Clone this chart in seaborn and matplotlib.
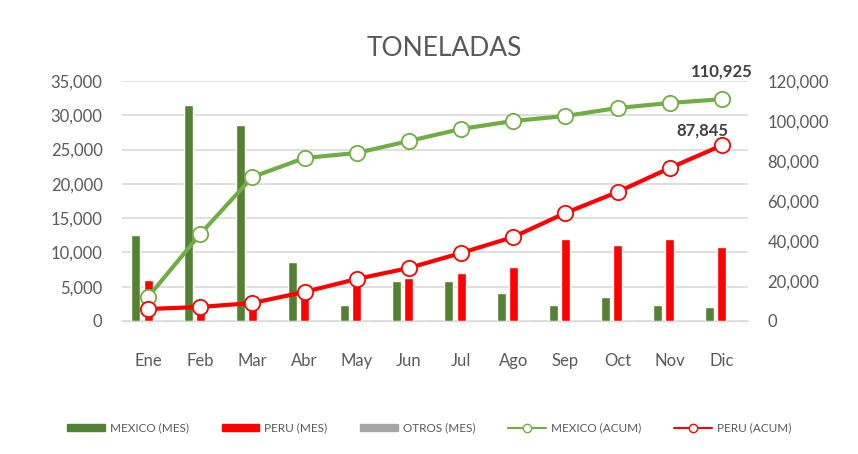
import pandas as pd
import matplotlib
matplotlib.use('Agg')
import matplotlib.pyplot as plt
import seaborn as sns
from matplotlib.ticker import FuncFormatter
from matplotlib.lines import Line2D
from matplotlib.patches import Patch

meses = ['Ene', 'Feb', 'Mar', 'Abr', 'May', 'Jun', 'Jul', 'Ago', 'Sep', 'Oct', 'Nov', 'Dic']
mexico_mes = [12500, 31500, 28600, 8600, 2300, 5800, 5900, 4100, 2300, 3500, 2300, 2000]
peru_mes = [6000, 1200, 2000, 5000, 5500, 6300, 7000, 7900, 12000, 11100, 12000, 10800]
otros_mes = [0, 0, 0, 0, 0, 0, 0, 0, 0, 0, 0, 0]
mexico_acum = [12000, 43500, 72000, 81500, 84000, 90000, 96000, 100000, 102500, 106500, 109000, 110925]
peru_acum = [6000, 7000, 9000, 14500, 21000, 26500, 34000, 42000, 54000, 64500, 76500, 87845]

c_mex = '#548235'
c_peru = '#ff0000'
c_otros = '#a5a5a5'
c_mex_line = '#70ad47'
c_txt = '#595959'

sns.set_style('white')
plt.rcParams['font.family'] = ['Lato', 'DejaVu Sans']

bars = pd.DataFrame({
    'mes': meses * 3,
    'valor': mexico_mes + peru_mes + otros_mes,
    'serie': ['MEXICO (MES)'] * 12 + ['PERU (MES)'] * 12 + ['OTROS (MES)'] * 12,
})
lines = pd.DataFrame({
    'mes': meses * 2,
    'valor': mexico_acum + peru_acum,
    'serie': ['MEXICO (ACUM)'] * 12 + ['PERU (ACUM)'] * 12,
})

fig = plt.figure(figsize=(8.58, 4.54), dpi=100)
ax = fig.add_axes([0.1422, 0.2930, 0.7296, 0.5286])

sns.barplot(data=bars, x='mes', y='valor', hue='serie', ax=ax,
            palette=[c_mex, c_peru, c_otros], width=0.7, gap=0.25,
            saturation=1, legend=False)
ax.set_ylim(0, 35000)
ax.set_yticks(range(0, 35001, 5000))
ax.yaxis.set_major_formatter(FuncFormatter(lambda v, p: f'{int(v):,}'))
ax.set_axisbelow(True)
ax.yaxis.grid(True, color='#d9d9d9', linewidth=1.2)
ax.set_xlabel('')
ax.set_ylabel('')

ax2 = ax.twinx()
sns.lineplot(data=lines, x='mes', y='valor', hue='serie', ax=ax2,
             palette=[c_mex_line, c_peru], linewidth=3, marker='o',
             markersize=11, markerfacecolor='white', markeredgewidth=1.3,
             legend=False, sort=False)
for l, c in zip(ax2.get_lines(), [c_mex_line, c_peru]):
    l.set_markeredgecolor(c)
ax2.set_ylim(0, 120000)
ax2.set_yticks(range(0, 120001, 20000))
ax2.yaxis.set_major_formatter(FuncFormatter(lambda v, p: f'{int(v):,}'))
ax2.set_ylabel('')
ax2.set_xlim(-0.5, 11.5)

ax2.annotate(f'{mexico_acum[-1]:,}', (11, mexico_acum[-1]), xytext=(0, 14),
             textcoords='offset points', ha='center', va='bottom',
             fontsize=12, color='#404040', fontweight='bold')
ax2.annotate(f'{peru_acum[-1]:,}', (11, peru_acum[-1]), xytext=(-14, 5),
             textcoords='offset points', ha='center', va='bottom',
             fontsize=12, color='#404040', fontweight='bold')

for a in (ax, ax2):
    for s in a.spines.values():
        s.set_visible(False)
    a.tick_params(length=0, labelsize=12, labelcolor=c_txt)
ax.spines['bottom'].set_visible(True)
ax.spines['bottom'].set_color('#d9d9d9')
ax.tick_params(axis='x', pad=23)
ax.tick_params(axis='y', pad=14)
ax2.tick_params(axis='y', pad=14)

fig.text(0.518, 0.893, 'TONELADAS', ha='center', va='center',
         fontsize=19, color=c_txt)

handles = [
    Patch(color=c_mex, label='MEXICO (MES)'),
    Patch(color=c_peru, label='PERU (MES)'),
    Patch(color=c_otros, label='OTROS (MES)'),
    Line2D([], [], color=c_mex_line, marker='o', markerfacecolor='white',
           markersize=6, linewidth=1.5, label='MEXICO (ACUM)'),
    Line2D([], [], color=c_peru, marker='o', markerfacecolor='white',
           markersize=6, linewidth=1.5, label='PERU (ACUM)'),
]
fig.legend(handles=handles, loc='center', bbox_to_anchor=(0.5, 0.057),
           ncol=5, frameon=False, fontsize=8.5, labelcolor=c_txt,
           handlelength=3.2, handleheight=0.6, columnspacing=2.8,
           handletextpad=0.4)

fig.savefig('out.png', dpi=100)
